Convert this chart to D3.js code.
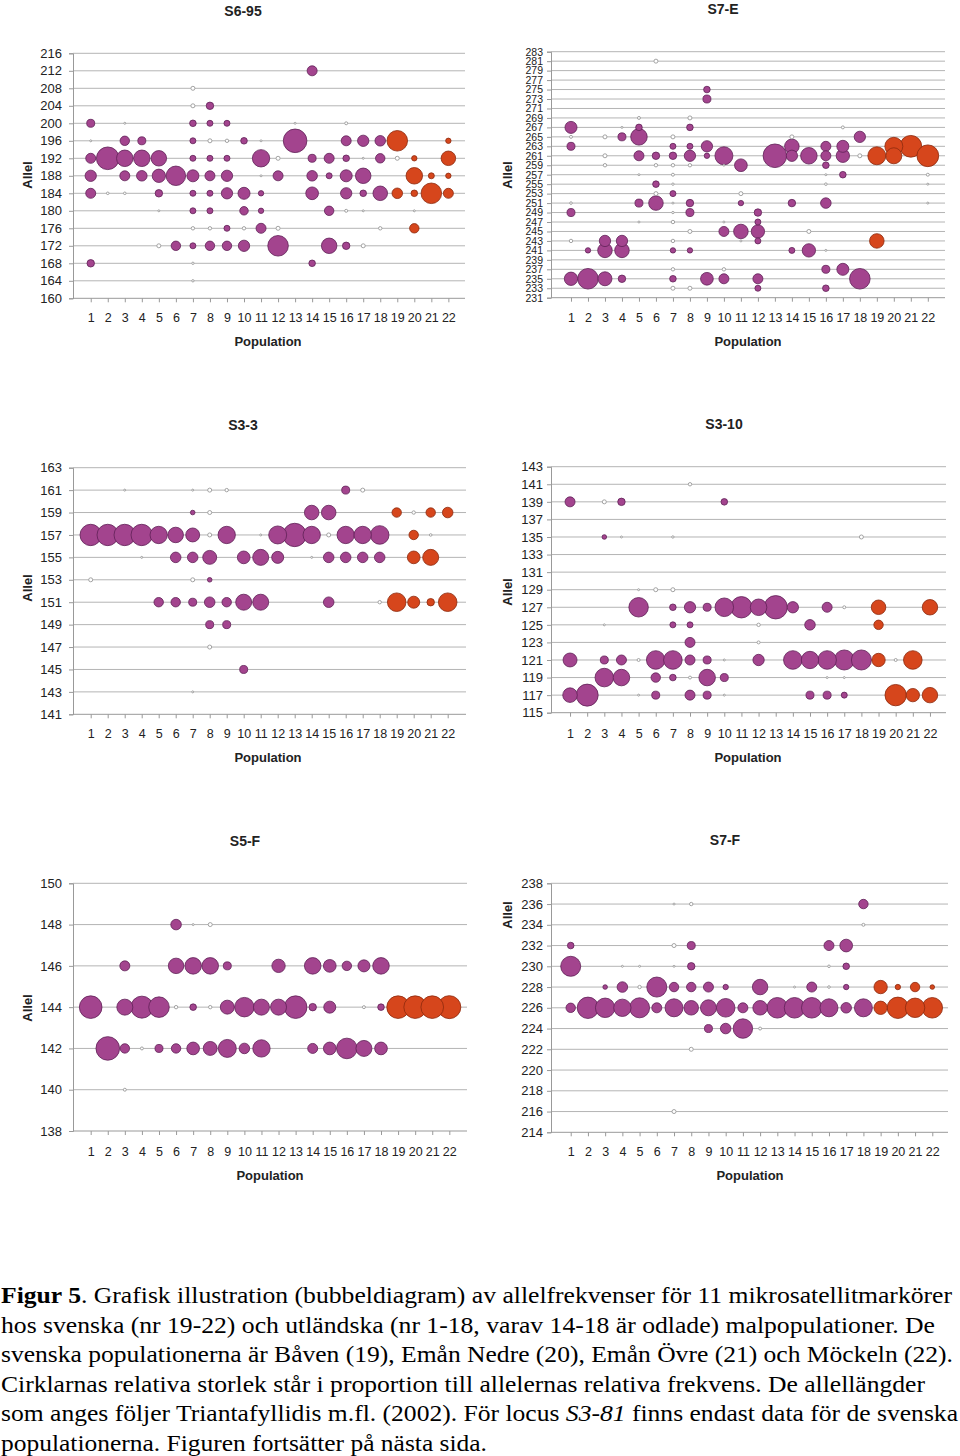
<!DOCTYPE html>
<html><head><meta charset="utf-8">
<script src="https://cdn.jsdelivr.net/npm/d3@7"></script>
<style>body{margin:0;background:#fff}svg{display:block}</style>
</head><body>
<svg id="c" width="960" height="1456"></svg>
<script>
// ---------- DATA ----------
const populations = [1,2,3,4,5,6,7,8,9,10,11,12,13,14,15,16,17,18,19,20,21,22];
const swedishPops = [19,20,21,22];

// S6-95  [population, allele, frequency]
const s695Ticks = [160,164,168,172,176,180,184,188,192,196,200,204,208,212,216];
const s695Main = [
 [14,212,.18],[8,204,.10],
 [1,200,.115],[7,200,.078],[8,200,.065],[9,200,.065],
 [3,196,.16],[4,196,.115],[7,196,.065],[10,196,.078],[13,196,1.0],[16,196,.18],[17,196,.23],[18,196,.20],[19,196,.76],[22,196,.052],
 [1,192,.18],[2,192,.92],[3,192,.49],[4,192,.49],[5,192,.43],[7,192,.065],[8,192,.065],[9,192,.065],[11,192,.54],[14,192,.115],[15,192,.18],[16,192,.078],[18,192,.16],[20,192,.052],[22,192,.38],
 [1,188,.23],[3,188,.18],[4,188,.20],[5,188,.32],[6,188,.68],[7,188,.26],[8,188,.18],[9,188,.23],[12,188,.18],[14,188,.20],[15,188,.065],[16,188,.26],[17,188,.43],[20,188,.49],[21,188,.065],[22,188,.052],
 [1,184,.18],[5,184,.10],[7,184,.065],[8,184,.065],[9,184,.23],[10,184,.26],[11,184,.052],[14,184,.29],[16,184,.23],[17,184,.078],[18,184,.38],[19,184,.20],[20,184,.078],[21,184,.76],[22,184,.18],
 [7,180,.065],[8,180,.065],[10,180,.13],[11,180,.052],[15,180,.16],
 [9,176,.065],[11,176,.18],[20,176,.16],
 [6,172,.16],[7,172,.065],[8,172,.16],[9,172,.16],[10,172,.23],[12,172,.76],[15,172,.43],[16,172,.10],
 [1,168,.10],[14,168,.078]
];
const s695Rare = [
 [7,208,.029],[7,204,.029],[3,200,.007],[13,200,.007],[16,200,.016],[1,196,.007],[8,196,.029],[9,196,.021],[11,196,.007],
 [12,192,.029],[17,192,.007],[19,192,.029],[11,188,.007],[2,184,.012],[3,184,.012],[5,180,.007],[16,180,.016],[17,180,.007],
 [20,180,.007],[7,176,.021],[8,176,.021],[10,176,.021],[12,176,.029],[18,176,.021],[5,172,.029],[17,172,.029],[7,168,.01],[7,164,.01]
];

// S7-E
const s7eTicks = [231,233,235,237,239,241,243,245,247,249,251,253,255,257,259,261,263,265,267,269,271,273,275,277,279,281,283];
const s7eMain = [
 [9,275,.078],[9,273,.115],
 [1,267,.26],[5,267,.078],[8,267,.078],
 [4,265,.115],[5,265,.49],[18,265,.23],
 [1,263,.115],[7,263,.065],[8,263,.065],[9,263,.23],[14,263,.38],[16,263,.18],[17,263,.26],[20,263,.58],[21,263,.85],
 [5,261,.18],[6,261,.10],[7,261,.10],[8,261,.23],[9,261,.052],[10,261,.58],[13,261,1.0],[14,261,.23],[15,261,.49],[16,261,.18],[17,261,.32],[19,261,.58],[20,261,.46],[22,261,.85],
 [11,259,.29],[16,259,.078],[17,257,.078],[6,255,.078],[7,253,.065],
 [5,251,.115],[6,251,.38],[8,251,.10],[11,251,.052],[14,251,.10],[16,251,.20],
 [1,249,.115],[8,249,.115],[12,249,.10],[12,247,.065],
 [10,245,.18],[11,245,.38],[12,245,.32],
 [3,243,.23],[4,243,.23],[12,243,.065],[19,243,.38],
 [2,241,.052],[3,241,.38],[4,241,.38],[7,241,.052],[8,241,.052],[14,241,.065],[15,241,.32],
 [16,237,.115],[17,237,.26],
 [1,235,.32],[2,235,.76],[3,235,.35],[4,235,.10],[7,235,.078],[9,235,.29],[10,235,.18],[12,235,.18],[18,235,.76],
 [12,233,.065],[16,233,.078]
];
const s7eRare = [
 [6,281,.029],[5,269,.016],[8,269,.029],[4,267,.007],[17,267,.016],[1,265,.016],[3,265,.029],[7,265,.029],[14,265,.029],
 [3,261,.029],[18,261,.029],[3,259,.021],[6,259,.021],[7,259,.021],[8,259,.021],[10,259,.007],[5,257,.007],[7,257,.016],
 [16,257,.007],[22,257,.016],[7,255,.01],[16,255,.012],[22,255,.007],[6,253,.029],[11,253,.029],[1,251,.012],[7,251,.007],
 [22,251,.007],[7,249,.01],[5,247,.007],[7,247,.021],[10,247,.007],[8,245,.029],[15,245,.029],[1,243,.021],[7,243,.021],
 [11,243,.007],[16,241,.007],[7,237,.021],[10,237,.021],[7,233,.029],[8,233,.029]
];

// S3-3
const s33Ticks = [141,143,145,147,149,151,153,155,157,159,161,163];
const s33Main = [
 [16,161,.115],
 [7,159,.038],[14,159,.38],[15,159,.38],[19,159,.16],[21,159,.16],[22,159,.20],
 [1,157,.82],[2,157,.82],[3,157,.82],[4,157,.82],[5,157,.54],[6,157,.43],[7,157,.35],[9,157,.54],[12,157,.58],[13,157,.98],[14,157,.54],[16,157,.54],[17,157,.54],[18,157,.62],[20,157,.16],
 [6,155,.20],[7,155,.20],[8,155,.35],[10,155,.29],[11,155,.46],[12,155,.26],[15,155,.20],[16,155,.20],[17,155,.20],[18,155,.20],[20,155,.29],[21,155,.46],
 [8,153,.038],
 [5,151,.16],[6,151,.16],[7,151,.115],[8,151,.20],[9,151,.16],[10,151,.46],[11,151,.46],[15,151,.20],[19,151,.62],[20,151,.26],[21,151,.10],[22,151,.62],
 [8,149,.115],[9,149,.115],[10,145,.115]
];
const s33Rare = [
 [3,161,.007],[7,161,.007],[8,161,.029],[9,161,.021],[17,161,.029],[8,159,.029],[20,159,.021],[8,157,.029],[11,157,.007],
 [15,157,.029],[21,157,.012],[4,155,.007],[14,155,.007],[1,153,.029],[7,153,.029],[18,151,.021],[8,147,.029],[7,143,.007]
];

// S3-10
const s310Ticks = [115,117,119,121,123,125,127,129,131,133,135,137,139,141,143];
const s310Main = [
 [1,139,.18],[4,139,.10],[10,139,.078],[3,135,.038],
 [5,127,.68],[7,127,.078],[8,127,.23],[9,127,.115],[10,127,.62],[11,127,.82],[12,127,.49],[13,127,.98],[14,127,.23],[16,127,.18],[19,127,.38],[22,127,.43],
 [7,125,.065],[8,125,.065],[15,125,.20],[19,125,.16],[8,123,.18],
 [1,121,.35],[3,121,.115],[4,121,.18],[6,121,.62],[7,121,.62],[8,121,.18],[9,121,.115],[12,121,.23],[14,121,.62],[15,121,.54],[16,121,.62],[17,121,.72],[18,121,.72],[19,121,.32],[21,121,.62],
 [3,119,.62],[4,119,.49],[6,119,.16],[7,119,.078],[9,119,.49],[10,119,.115],
 [1,117,.38],[2,117,.87],[6,117,.115],[8,117,.18],[9,117,.115],[15,117,.115],[16,117,.115],[17,117,.065],[20,117,.82],[21,117,.32],[22,117,.43]
];
const s310Rare = [
 [8,141,.021],[3,139,.029],[4,135,.007],[7,135,.01],[18,135,.029],[5,129,.007],[6,129,.029],[7,129,.029],[17,127,.016],
 [3,125,.007],[12,125,.021],[12,123,.016],[5,121,.016],[10,121,.007],[20,121,.016],[8,119,.016],[16,119,.007],[17,119,.007],
 [5,117,.007],[10,117,.007]
];

// S5-F
const s5fTicks = [138,140,142,144,146,148,150];
const s5fMain = [
 [6,148,.20],
 [3,146,.18],[6,146,.43],[7,146,.49],[8,146,.49],[9,146,.115],[12,146,.32],[14,146,.49],[15,146,.29],[16,146,.16],[17,146,.26],[18,146,.49],
 [1,144,.92],[3,144,.46],[4,144,.87],[5,144,.76],[7,144,.078],[9,144,.35],[10,144,.68],[11,144,.46],[12,144,.46],[13,144,.92],[14,144,.10],[15,144,.26],[18,144,.078],[19,144,.92],[20,144,.92],[21,144,.92],[22,144,.95],
 [2,142,1.0],[3,142,.16],[5,142,.115],[6,142,.16],[7,142,.29],[8,142,.35],[9,142,.58],[10,142,.20],[11,142,.54],[14,142,.18],[15,142,.29],[16,142,.76],[17,142,.46],[18,142,.29]
];
const s5fRare = [[7,148,.007],[8,148,.029],[6,144,.021],[8,144,.021],[17,144,.016],[4,142,.016],[3,140,.016]];

// S7-F
const s7fTicks = [214,216,218,220,222,224,226,228,230,232,234,236,238];
const s7fMain = [
 [18,236,.16],
 [1,232,.078],[8,232,.115],[16,232,.18],[17,232,.29],
 [1,230,.72],[8,230,.10],[17,230,.078],
 [3,228,.038],[4,228,.20],[6,228,.72],[7,228,.16],[8,228,.16],[9,228,.18],[10,228,.052],[12,228,.43],[15,228,.18],[17,228,.052],[19,228,.32],[20,228,.052],[21,228,.16],[22,228,.038],
 [1,226,.16],[2,226,.82],[3,226,.68],[4,226,.54],[5,226,.72],[6,226,.18],[7,226,.58],[8,226,.38],[9,226,.46],[10,226,.62],[11,226,.18],[12,226,.38],[13,226,.76],[14,226,.76],[15,226,.76],[16,226,.58],[17,226,.20],[18,226,.58],[19,226,.32],[20,226,.82],[21,226,.68],[22,226,.76],
 [9,224,.115],[10,224,.20],[11,224,.68]
];
const s7fRare = [
 [7,236,.007],[8,236,.021],[18,234,.016],[7,232,.029],[4,230,.007],[5,230,.007],[7,230,.007],[16,230,.012],[5,228,.021],
 [14,228,.007],[16,228,.012],[12,224,.016],[8,222,.029],[7,216,.029]
];

const captionLines = [
 ["Figur 5", ". Grafisk illustration (bubbeldiagram) av allelfrekvenser för 11 mikrosatellitmarkörer"],
 ["", "hos svenska (nr 19-22) och utländska (nr 1-18, varav 14-18 är odlade) malpopulationer. De"],
 ["", "svenska populationerna är Båven (19), Emån Nedre (20), Emån Övre (21) och Möckeln (22)."],
 ["", "Cirklarnas relativa storlek står i proportion till allelernas relativa frekvens. De allellängder"],
 ["", "som anges följer Triantafyllidis m.fl. (2002). För locus ", "S3-81", " finns endast data för de svenska"],
 ["", "populationerna. Figuren fortsätter på nästa sida."]
];

// ---------- LAYOUT ----------
const panels = [
 {title:"S6-95", ticks:s695Ticks, main:s695Main, rare:s695Rare, axisX:73, x0:73.7, x23:465.4, gridR:465, yTop:53.3, yBot:298.3,
  labRight:62, yFont:13, titleX:243, titleY:16, allelX:27, allelY:175, popX:268, xLabY:313},
 {title:"S7-E", ticks:s7eTicks, main:s7eMain, rare:s7eRare, axisX:551, x0:554, x23:944.8, gridR:945, yTop:51.7, yBot:297.7,
  labRight:543, yFont:10.5, titleX:723, titleY:14, allelX:507, allelY:175, popX:748, xLabY:313},
 {title:"S3-3", ticks:s33Ticks, main:s33Main, rare:s33Rare, axisX:73, x0:73.7, x23:464.7, gridR:466, yTop:467.7, yBot:714.3,
  labRight:62, yFont:13, titleX:243, titleY:430, allelX:27, allelY:588, popX:268, xLabY:729},
 {title:"S3-10", ticks:s310Ticks, main:s310Main, rare:s310Rare, axisX:551, x0:552.9, x23:947.1, gridR:946, yTop:466.7, yBot:712.7,
  labRight:543, yFont:13, titleX:724, titleY:429, allelX:507, allelY:592, popX:748, xLabY:729},
 {title:"S5-F", ticks:s5fTicks, main:s5fMain, rare:s5fRare, axisX:73, x0:73.6, x23:466.4, gridR:467, yTop:883.3, yBot:1131,
  labRight:62, yFont:13, titleX:245, titleY:846, allelX:27, allelY:1008, popX:270, xLabY:1147},
 {title:"S7-F", ticks:s7fTicks, main:s7fMain, rare:s7fRare, axisX:551, x0:553.5, x23:949.5, gridR:948, yTop:883.3, yBot:1132.3,
  labRight:543, yFont:13, titleX:725, titleY:845, allelX:507, allelY:915, popX:750, xLabY:1147}
];

const svg = d3.select("#c");
const rScale = d3.scaleSqrt().domain([0,1]).range([0,11.8]);
const SANS = "Liberation Sans, Arial, sans-serif";

function drawPanel(p) {
  const g = svg.append("g");
  const x = d3.scaleLinear().domain([0,23]).range([p.x0, p.x23]);
  const y = d3.scaleLinear().domain([p.ticks[0], p.ticks[p.ticks.length-1]]).range([p.yBot, p.yTop]);

  // gridlines
  g.append("g").selectAll("line").data(p.ticks.slice(1)).join("line")
    .attr("x1", p.axisX).attr("x2", p.gridR)
    .attr("y1", d => y(d)).attr("y2", d => y(d))
    .attr("stroke", "#b4b4b4").attr("stroke-width", 1);

  // y axis
  const ya = g.append("g").attr("transform", `translate(${p.axisX},0)`)
    .call(d3.axisLeft(y).tickValues(p.ticks).tickSize(4).tickPadding(p.axisX - 4 - p.labRight).tickFormat(d3.format("d")));
  ya.select(".domain").attr("stroke", "#999");
  ya.selectAll(".tick line").attr("stroke", "#999");
  ya.selectAll("text").style("font-family", SANS).attr("font-size", p.yFont).attr("fill", "#222");

  // x axis
  const xa = g.append("g").attr("transform", `translate(0,${p.yBot})`)
    .call(d3.axisBottom(x).tickValues(populations).tickSize(4).tickPadding(p.xLabY - p.yBot - 4).tickFormat(d3.format("d")));
  xa.select(".domain").remove();
  xa.append("line").attr("x1", p.axisX).attr("x2", p.gridR).attr("stroke", "#999");
  xa.selectAll(".tick line").attr("stroke", "#999");
  xa.selectAll("text").style("font-family", SANS).attr("font-size", 12.5).attr("fill", "#222");

  // bubbles
  const main = p.main.map(d => ({pop:d[0], allele:d[1], f:d[2]})).sort((a,b) => b.f - a.f);
  g.append("g").selectAll("circle").data(main).join("circle")
    .attr("cx", d => x(d.pop)).attr("cy", d => y(d.allele)).attr("r", d => rScale(d.f))
    .attr("fill", d => swedishPops.includes(d.pop) ? "#d6461c" : "#a3448e")
    .attr("stroke", d => swedishPops.includes(d.pop) ? "#8c2a0e" : "#5f2157")
    .attr("stroke-width", 0.8);
  const rare = p.rare.map(d => ({pop:d[0], allele:d[1], f:d[2]}));
  g.append("g").selectAll("circle").data(rare).join("circle")
    .attr("cx", d => x(d.pop)).attr("cy", d => y(d.allele)).attr("r", d => rScale(d.f))
    .attr("fill", "#fff").attr("stroke", "#9a9a9a").attr("stroke-width", 0.9);

  // titles
  g.append("text").attr("x", p.titleX).attr("y", p.titleY).attr("text-anchor", "middle")
    .style("font-family", SANS).attr("font-size", 14).attr("font-weight", "bold").attr("fill", "#222").text(p.title);
  g.append("text").attr("x", p.popX).attr("y", p.xLabY + 33).attr("text-anchor", "middle")
    .style("font-family", SANS).attr("font-size", 13).attr("font-weight", "bold").attr("fill", "#222").text("Population");
  g.append("text").attr("transform", `translate(${p.allelX + 5},${p.allelY}) rotate(-90)`).attr("text-anchor", "middle")
    .style("font-family", SANS).attr("font-size", 13).attr("font-weight", "bold").attr("fill", "#222").text("Allel");
}
panels.forEach(drawPanel);

// caption
const capWidths = [951, 934, 952, 924, 957, 486];
const capY0 = 1303, capDY = 29.5;
captionLines.forEach((ln, i) => {
  const t = svg.append("text").attr("x", 1).attr("y", capY0 + i*capDY)
    .style("font-family", "Liberation Serif, Times New Roman, serif").attr("font-size", 24).attr("fill", "#000")
    .attr("textLength", capWidths[i]).attr("lengthAdjust", "spacingAndGlyphs");
  if (ln[0]) t.append("tspan").attr("font-weight", "bold").text(ln[0]);
  t.append("tspan").text(ln[1]);
  if (ln.length > 2) {
    t.append("tspan").attr("font-style", "italic").text(ln[2]);
    t.append("tspan").text(ln[3]);
  }
});
</script>
</body></html>
